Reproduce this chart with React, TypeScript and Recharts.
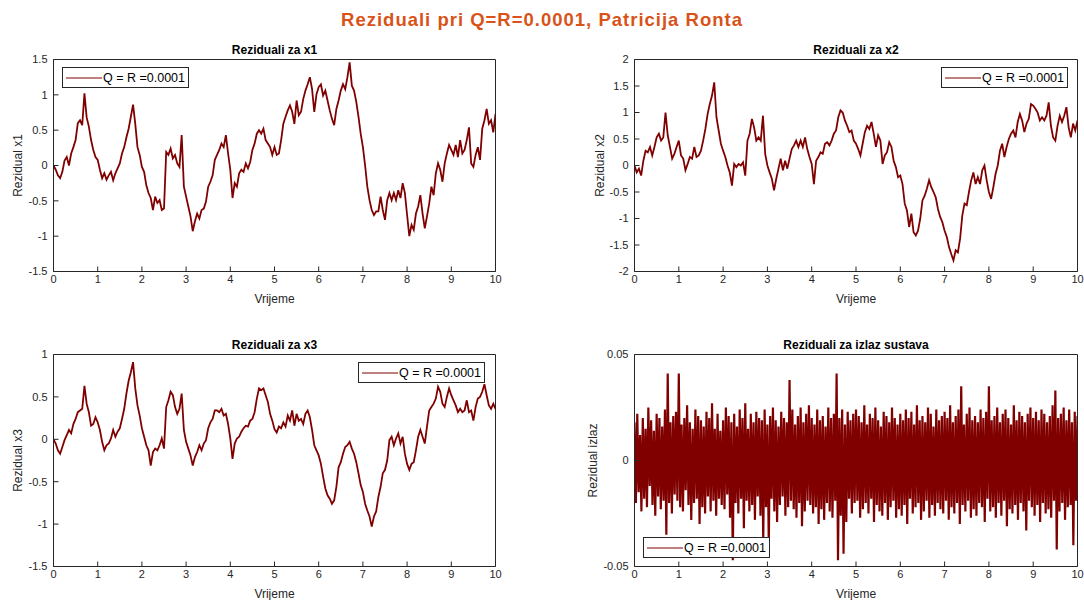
import { LineChart, Line, XAxis, YAxis, Label } from "recharts";

// Four residual subplots (MATLAB-style figure), laid out by absolute plot rects.

const W = 1084;
const H = 600;
const LINE_COLOR = "#800000";
const AXIS_COLOR = "#262626";
const FONT = '"Liberation Sans", Arial, Helvetica, sans-serif';

const TIME_STEP = 0.05;
const X_TICKS = [0, 1, 2, 3, 4, 5, 6, 7, 8, 9, 10];
const X1_TICKS = [-1.5, -1, -0.5, 0, 0.5, 1, 1.5];
const X2_TICKS = [-2, -1.5, -1, -0.5, 0, 0.5, 1, 1.5, 2];
const X3_TICKS = [-1.5, -1, -0.5, 0, 0.5, 1];
const IZLAZ_TICKS = [-0.05, 0, 0.05];

// residual x1, one value every 0.05 s (rows = one second)
const X1_RESIDUAL = [
  0, -0.06, -0.14, -0.18, -0.09, 0.07, 0.12, 0, 0.17, 0.26, 0.36, 0.6, 0.64, 0.57, 1.02, 0.68, 0.55, 0.36, 0.22, 0.12,
  0.08, -0.06, -0.18, -0.11, -0.2, -0.14, -0.09, -0.21, -0.11, -0.04, 0.03, 0.17, 0.26, 0.4, 0.52, 0.69, 0.86, 0.59, 0.26, 0.15,
  -0.02, -0.09, -0.28, -0.39, -0.46, -0.63, -0.44, -0.53, -0.49, -0.63, -0.61, 0.19, 0.15, 0.24, 0.1, 0.15, 0.03, -0.02, 0.43, -0.3,
  -0.44, -0.58, -0.72, -0.93, -0.79, -0.68, -0.75, -0.63, -0.61, -0.51, -0.3, -0.23, -0.14, 0.08, 0.15, 0.22, 0.31, 0.26, 0.43, 0.17,
  -0.06, -0.46, -0.25, -0.3, -0.11, -0.06, -0.09, 0.03, -0.04, 0.05, 0.22, 0.31, 0.45, 0.5, 0.45, 0.52, 0.36, 0.31, 0.26, 0.15,
  0.26, 0.15, 0.17, 0.36, 0.59, 0.69, 0.78, 0.85, 0.76, 0.59, 0.92, 0.71, 0.76, 0.94, 1.06, 1.15, 1.25, 1.08, 0.76, 1.01,
  1.11, 1.15, 0.99, 1.06, 0.92, 0.78, 0.66, 0.57, 0.8, 0.92, 1.06, 1.15, 1.08, 1.25, 1.46, 1.13, 1.06, 0.9, 0.69, 0.45,
  0.26, 0, -0.3, -0.49, -0.63, -0.7, -0.65, -0.65, -0.44, -0.63, -0.77, -0.49, -0.39, -0.49, -0.39, -0.49, -0.35, -0.46, -0.25, -0.39,
  -0.7, -1.0, -0.84, -0.91, -0.68, -0.58, -0.42, -0.68, -0.89, -0.72, -0.54, -0.3, -0.42, -0.11, 0.03, -0.06, -0.23, 0.03, 0.17, 0.29,
  0.22, 0.15, 0.29, 0.12, 0.36, 0.17, 0.22, 0.36, 0.54, 0.03, -0.02, 0.15, 0.26, 0.08, 0.52, 0.64, 0.8, 0.59, 0.64, 0.47,
  0.73,
];

const X2_RESIDUAL = [
  0, -0.13, -0.06, -0.19, 0.09, 0.28, 0.25, 0.35, 0.19, 0.35, 0.53, 0.6, 0.47, 0.53, 1.0, 0.57, 0.35, 0.13, 0.22, 0.35,
  0.47, 0.19, 0.13, -0.09, 0.03, 0.16, 0.13, 0.35, 0.16, 0.19, 0.28, 0.47, 0.69, 0.97, 1.16, 1.32, 1.57, 0.91, 0.66, 0.41,
  0.28, 0.16, 0, -0.13, -0.38, 0.03, -0.03, 0.03, 0, 0.06, -0.19, 0.47, 0.6, 0.88, 0.72, 0.47, 0.53, 0.47, 0.94, 0.22,
  0, -0.13, -0.25, -0.47, -0.25, -0.06, 0.13, -0.09, 0.09, -0.06, 0.13, 0.31, 0.38, 0.47, 0.35, 0.47, 0.35, 0.53, 0.31, 0.16,
  0.03, -0.35, 0.09, 0.16, 0.25, 0.22, 0.41, 0.44, 0.38, 0.47, 0.6, 0.66, 0.91, 1.04, 1.0, 0.85, 0.75, 0.63, 0.66, 0.47,
  0.41, 0.31, 0.19, 0.41, 0.63, 0.75, 0.69, 0.82, 0.6, 0.35, 0.57, 0.47, 0.03, 0.19, 0.25, 0.44, 0.35, 0.09, -0.03, -0.22,
  -0.19, -0.35, -0.72, -0.85, -1.16, -0.91, -1.26, -1.32, -1.23, -1.0, -0.66, -0.57, -0.44, -0.28, -0.41, -0.5, -0.6, -0.82, -0.97, -1.07,
  -1.23, -1.35, -1.54, -1.67, -1.79, -1.6, -1.64, -1.38, -0.94, -0.72, -0.75, -0.5, -0.28, -0.13, -0.35, -0.22, -0.35, -0.09, 0, -0.28,
  -0.5, -0.63, -0.41, -0.16, 0, 0.28, 0.41, 0.16, 0.35, 0.5, 0.6, 0.66, 0.53, 0.82, 0.97, 0.85, 0.63, 0.79, 0.88, 1.16,
  1.13, 1.07, 1.0, 0.85, 0.91, 0.85, 0.94, 1.19, 0.75, 0.53, 0.47, 0.75, 0.94, 0.82, 0.94, 1.1, 0.72, 0.53, 0.79, 0.66,
  0.85,
];

const X3_RESIDUAL = [
  0, -0.05, -0.13, -0.17, -0.09, -0.01, 0.05, 0.11, 0.07, 0.18, 0.24, 0.32, 0.34, 0.36, 0.63, 0.42, 0.32, 0.16, 0.18, 0.26,
  0.2, 0.11, -0.03, -0.13, -0.07, -0.05, 0.01, 0.11, 0.03, 0.09, 0.13, 0.24, 0.36, 0.54, 0.69, 0.79, 0.91, 0.6, 0.4, 0.28,
  0.13, 0.03, -0.07, -0.13, -0.31, -0.15, -0.11, -0.13, -0.07, 0.01, -0.11, 0.38, 0.46, 0.56, 0.52, 0.38, 0.3, 0.36, 0.54, 0.11,
  -0.03, -0.11, -0.19, -0.31, -0.21, -0.15, -0.07, -0.13, -0.05, -0.01, 0.13, 0.2, 0.24, 0.34, 0.34, 0.32, 0.36, 0.28, 0.3, 0.18,
  0.01, -0.23, -0.05, 0.01, 0.03, 0.09, 0.13, 0.16, 0.15, 0.22, 0.24, 0.32, 0.48, 0.6, 0.58, 0.6, 0.52, 0.44, 0.3, 0.22,
  0.12, 0.08, 0.15, 0.13, 0.2, 0.15, 0.28, 0.22, 0.34, 0.16, 0.3, 0.22, 0.24, 0.18, 0.3, 0.34, 0.26, 0.11, -0.07, -0.13,
  -0.19, -0.29, -0.44, -0.58, -0.66, -0.7, -0.76, -0.72, -0.56, -0.33, -0.27, -0.17, -0.09, -0.07, -0.03, -0.11, -0.17, -0.27, -0.4, -0.54,
  -0.62, -0.76, -0.84, -0.91, -1.03, -0.91, -0.85, -0.68, -0.56, -0.4, -0.36, -0.25, -0.01, 0.03, -0.07, 0.01, 0.07, -0.05, 0.03, -0.17,
  -0.29, -0.36, -0.29, -0.27, -0.13, 0.03, 0.11, 0.03, -0.05, 0.15, 0.34, 0.38, 0.42, 0.48, 0.62, 0.56, 0.42, 0.38, 0.5, 0.6,
  0.52, 0.46, 0.4, 0.32, 0.36, 0.32, 0.34, 0.46, 0.32, 0.34, 0.22, 0.38, 0.48, 0.5, 0.56, 0.65, 0.52, 0.4, 0.36, 0.42,
  0.36,
];

// output residual in thousandths, 32 samples per second
const IZLAZ_STEP = 10 / 320;
const IZLAZ_RESIDUAL_MILLI = [
  18, -20, 22, -15, 12, -24, 20, -18, 15, -22, 25, -12, 19, -21, 14, -26, 22, -17, 20, -23, 16, -19, 24, -35, 41, -20, 18, -25, 21, -16, 23, -19,
  41, -22, 17, -24, 20, -14, 26, -21, 18, -28, 15, -20, 24, -18, 21, -30, 19, -22, 16, -25, 23, -17, 20, -24, 27, -19, 15, -26, 22, -18, 14, -21,
  19, -23, 25, -16, 21, -27, 18, -47, 22, -20, 16, -25, 24, -18, 20, -32, 27, -19, 15, -24, 22, -21, 18, -28, 23, -17, 20, -26, 19, -38, 24, -22,
  17, -40, 21, -18, 25, -24, 19, -29, 16, -21, 23, -17, 20, -26, 18, -22, 38, -19, 24, -23, 17, -27, 21, -20, 25, -31, 18, -24, 22, -19, 26, -21,
  20, -25, 17, -22, 24, -30, 19, -23, 21, -28, 16, -20, 25, -24, 20, -27, 22, -19, 41, -47, 20, -26, 24, -44, 17, -29, 23, -18, 19, -25, 22, -20,
  24, -19, 21, -27, 18, -23, 26, -20, 17, -25, 22, -18, 20, -29, 25, -21, 19, -24, 16, -26, 23, -20, 21, -28, 18, -22, 25, -19, 20, -27, 17, -23,
  22, -26, 19, -21, 24, -30, 20, -18, 23, -25, 17, -22, 26, -20, 19, -28, 21, -24, 18, -19, 25, -27, 22, -21, 16, -26, 24, -20, 19, -23, 21, -25,
  23, -19, 20, -28, 26, -22, 18, -25, 21, -20, 24, -30, 35, -21, 17, -24, 22, -19, 25, -27, 19, -23, 21, -26, 18, -20, 24, -22, 20, -29, 23, -18,
  35, -24, 19, -22, 21, -27, 25, -20, 18, -26, 22, -19, 24, -31, 20, -23, 17, -25, 26, -21, 19, -28, 23, -20, 21, -24, 18, -33, 22, -19, 25, -22,
  20, -26, 23, -21, 19, -29, 24, -20, 22, -25, 18, -23, 21, -27, 26, -19, 33, -42, 20, -24, 22, -20, 25, -28, 19, -22, 24, -21, 18, -40, 23, -19,
  21,
];

const LEGEND_TEXT = "Q = R =0.0001";

type Row = { t: number; v: number };
type Rect = { x1: number; y1: number; x2: number; y2: number };
type PanelSpec = {
  title: string;
  yLabel: string;
  rows: Row[];
  yTicks: number[];
  plot: Rect;
  yLabelDist: number;
  lineWidth: number;
  legend: { left: number; top: number };
};

function toRows(values: number[], step: number, scale = 1): Row[] {
  return values.map((v, i) => ({ t: Number((i * step).toFixed(5)), v: v * scale }));
}

const PANELS: PanelSpec[] = [
  {
    title: "Reziduali za x1",
    yLabel: "Rezidual x1",
    rows: toRows(X1_RESIDUAL, TIME_STEP),
    yTicks: X1_TICKS,
    plot: { x1: 53.5, y1: 59.5, x2: 495.5, y2: 271.5 },
    yLabelDist: 36,
    lineWidth: 1.8,
    legend: { left: 62, top: 67 },
  },
  {
    title: "Reziduali za x2",
    yLabel: "Rezidual x2",
    rows: toRows(X2_RESIDUAL, TIME_STEP),
    yTicks: X2_TICKS,
    plot: { x1: 634.5, y1: 59.5, x2: 1077.5, y2: 271.5 },
    yLabelDist: 35,
    lineWidth: 1.8,
    legend: { left: 941, top: 67 },
  },
  {
    title: "Reziduali za x3",
    yLabel: "Rezidual x3",
    rows: toRows(X3_RESIDUAL, TIME_STEP),
    yTicks: X3_TICKS,
    plot: { x1: 53.5, y1: 354.5, x2: 495.5, y2: 566.5 },
    yLabelDist: 36,
    lineWidth: 1.8,
    legend: { left: 358, top: 362 },
  },
  {
    title: "Reziduali za izlaz sustava",
    yLabel: "Rezidual izlaz",
    rows: toRows(IZLAZ_RESIDUAL_MILLI, IZLAZ_STEP, 0.001),
    yTicks: IZLAZ_TICKS,
    plot: { x1: 634.5, y1: 354.5, x2: 1077.5, y2: 566.5 },
    yLabelDist: 42,
    lineWidth: 2.2,
    legend: { left: 643, top: 537 },
  },
];

const tickStyle = { fill: AXIS_COLOR, fontSize: 11, fontFamily: FONT };

function Panel({ spec }: { spec: PanelSpec }) {
  const { plot, yTicks } = spec;
  const yDomain: [number, number] = [yTicks[0], yTicks[yTicks.length - 1]];
  // WHY: axes need a non-zero box to render, so each gets 1px taken from the margin
  return (
    <div style={{ position: "absolute", left: 0, top: 0 }}>
      <LineChart
        width={W}
        height={H}
        data={spec.rows}
        margin={{
          left: plot.x1 - 1,
          top: plot.y1 - 1,
          right: W - plot.x2 - 1,
          bottom: H - plot.y2 - 1,
        }}
      >
        <XAxis
          dataKey="t"
          type="number"
          domain={[0, 10]}
          ticks={X_TICKS}
          allowDataOverflow
          height={1}
          tickSize={-5}
          tickMargin={9}
          axisLine={{ stroke: AXIS_COLOR }}
          tickLine={{ stroke: AXIS_COLOR }}
          tick={tickStyle}
        >
          <Label
            content={(p: any) => {
              const vb = p.viewBox;
              return (
                <text
                  x={vb.x + vb.width / 2}
                  y={vb.y + 31}
                  textAnchor="middle"
                  fill={AXIS_COLOR}
                  fontSize={12}
                  fontFamily={FONT}
                >
                  Vrijeme
                </text>
              );
            }}
          />
        </XAxis>
        <XAxis
          xAxisId="top"
          orientation="top"
          type="number"
          domain={[0, 10]}
          ticks={X_TICKS}
          allowDataOverflow
          height={1}
          tickSize={-5}
          axisLine={{ stroke: AXIS_COLOR }}
          tickLine={{ stroke: AXIS_COLOR }}
          tick={false}
        />
        <YAxis
          type="number"
          domain={yDomain}
          ticks={yTicks}
          allowDataOverflow
          width={1}
          tickSize={-5}
          tickMargin={11}
          axisLine={{ stroke: AXIS_COLOR }}
          tickLine={{ stroke: AXIS_COLOR }}
          tick={tickStyle}
        >
          <Label
            content={(p: any) => {
              const vb = p.viewBox;
              const cx = vb.x + vb.width - spec.yLabelDist;
              const cy = vb.y + vb.height / 2;
              return (
                <text
                  x={cx}
                  y={cy}
                  transform={`rotate(-90 ${cx} ${cy})`}
                  textAnchor="middle"
                  dominantBaseline="central"
                  fill={AXIS_COLOR}
                  fontSize={12}
                  fontFamily={FONT}
                >
                  {spec.yLabel}
                </text>
              );
            }}
          />
        </YAxis>
        <YAxis
          yAxisId="right"
          orientation="right"
          type="number"
          domain={yDomain}
          ticks={yTicks}
          allowDataOverflow
          width={1}
          tickSize={-5}
          axisLine={{ stroke: AXIS_COLOR }}
          tickLine={{ stroke: AXIS_COLOR }}
          tick={false}
        />
        <Line
          type="linear"
          dataKey="v"
          stroke={LINE_COLOR}
          strokeWidth={spec.lineWidth}
          strokeLinejoin="miter"
          dot={false}
          isAnimationActive={false}
        />
      </LineChart>
      <div
        style={{
          position: "absolute",
          left: plot.x1,
          width: plot.x2 - plot.x1,
          top: plot.y1 - 17,
          lineHeight: "14px",
          textAlign: "center",
          fontFamily: FONT,
          fontSize: 12,
          fontWeight: "bold",
          color: "#000",
        }}
      >
        {spec.title}
      </div>
      <div
        style={{
          position: "absolute",
          left: spec.legend.left,
          top: spec.legend.top,
          width: 127,
          height: 21,
          boxSizing: "border-box",
          border: `1px solid ${AXIS_COLOR}`,
          background: "#fff",
          display: "flex",
          alignItems: "center",
          fontFamily: FONT,
          fontSize: 12.5,
          color: "#000",
          whiteSpace: "nowrap",
        }}
      >
        <svg width={40} height={19} style={{ flex: "none" }}>
          <line x1={3} x2={39} y1={10} y2={10} stroke={LINE_COLOR} strokeWidth={1} />
        </svg>
        <span>{LEGEND_TEXT}</span>
      </div>
    </div>
  );
}

export default function App() {
  return (
    <div
      style={{
        position: "absolute",
        left: 0,
        top: 0,
        width: W,
        height: H,
        background: "#fff",
        overflow: "hidden",
      }}
    >
      <div
        style={{
          position: "absolute",
          left: 0,
          top: 9,
          width: W,
          textAlign: "center",
          lineHeight: "22px",
          fontFamily: FONT,
          fontSize: 18.5,
          letterSpacing: 1,
          fontWeight: "bold",
          color: "#D95319",
        }}
      >
        Reziduali pri Q=R=0.0001, Patricija Ronta
      </div>
      {PANELS.map((spec) => (
        <Panel key={spec.title} spec={spec} />
      ))}
    </div>
  );
}
